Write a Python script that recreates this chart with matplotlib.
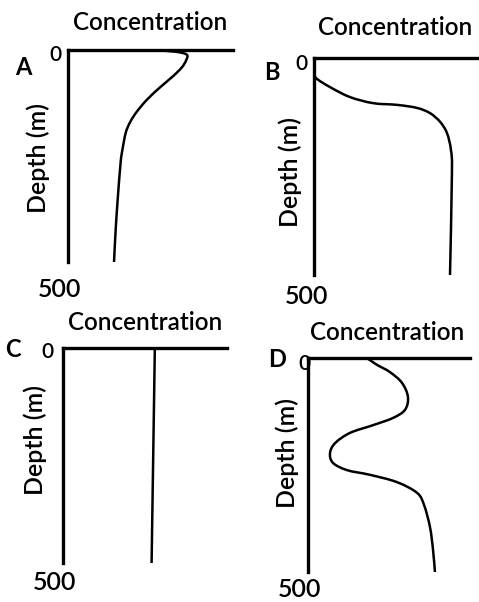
import matplotlib
matplotlib.use("Agg")
import matplotlib.pyplot as plt
from matplotlib.path import Path
from matplotlib.patches import PathPatch

plt.rcParams['font.family'] = ['Lato', 'DejaVu Sans']

# concentration (fraction of axis width) vs depth (m) for the four profiles
depth_a = [0, 4, 11, 25, 41, 62, 88, 117, 145, 169, 195, 235, 265, 353, 430, 500]
conc_a = [0.515, 0.65, 0.72, 0.715, 0.69, 0.636, 0.558, 0.479, 0.418, 0.378, 0.350,
          0.330, 0.319, 0.301, 0.288, 0.279]

depth_b = [30, 46, 67, 90, 104, 108, 115, 127, 147, 173, 212, 265, 505]
conc_b = [0.0, 0.012, 0.097, 0.218, 0.358, 0.503, 0.624, 0.703, 0.764, 0.806, 0.830,
          0.836, 0.824]

depth_c = [0, 505]
conc_c = [0.56, 0.54]

depth_d = [0, 5, 16, 33, 58, 91, 121, 140, 157, 175, 199, 222, 245, 262, 273, 290, 315,
           343, 395, 449, 502]
conc_d = [0.36, 0.383, 0.426, 0.506, 0.580, 0.617, 0.599, 0.525, 0.401, 0.259, 0.167,
          0.136, 0.154, 0.241, 0.383, 0.549, 0.673, 0.716, 0.753, 0.772, 0.784]

panel_letters = ['A', 'B', 'C', 'D']
x_label = 'Concentration'
y_label = 'Depth (m)'
depth_ticks = ['0', '500']

W, H = 479, 602
fig = plt.figure(figsize=(W / 100, H / 100), dpi=100)

# pixel boxes (left, right, top, bottom) of each panel
boxes = [(68, 233, 50, 262), (314, 479, 58, 275), (63, 227, 348, 563), (308, 470, 358, 572)]
profiles = [(conc_a, depth_a), (conc_b, depth_b), (conc_c, depth_c), (conc_d, depth_d)]
# text anchors in pixels: (x centre, baseline y)
title_pos = [(150, 30), (395, 35), (145, 330), (387, 340)]
letter_pos = [(23, 75), (272, 80), (13, 357), (277, 367)]
zero_pos = [(55, 61), (301, 70), (47, 358), (304, 370)]
five_pos = [(60, 297), (307, 304), (55, 590), (300, 597)]
ylab_pos = [(38, 158), (290, 172), (35, 440), (287, 453)]


def put(x, y, s, **kw):
    fig.text(x / W, 1 - y / H, s, fontweight=kw.pop('fontweight', 'semibold'), **kw)


def smooth_path(xs, ys):
    # Catmull-Rom through the points, written as cubic Bezier segments
    pts = list(zip(xs, ys))
    if len(pts) < 3:
        return Path(pts)
    verts = [pts[0]]
    codes = [Path.MOVETO]
    n = len(pts)
    for k in range(n - 1):
        p0 = pts[max(k - 1, 0)]
        p1 = pts[k]
        p2 = pts[k + 1]
        p3 = pts[min(k + 2, n - 1)]
        c1 = (p1[0] + (p2[0] - p0[0]) / 6, p1[1] + (p2[1] - p0[1]) / 6)
        c2 = (p2[0] - (p3[0] - p1[0]) / 6, p2[1] - (p3[1] - p1[1]) / 6)
        verts += [c1, c2, p2]
        codes += [Path.CURVE4] * 3
    return Path(verts, codes)


for i, (l, r, t, b) in enumerate(boxes):
    ax = fig.add_axes([l / W, 1 - b / H, (r - l) / W, (b - t) / H])
    conc, depth = profiles[i]
    ax.add_patch(PathPatch(smooth_path(conc, depth), facecolor='none', edgecolor='black',
                           lw=1.8, capstyle='round', joinstyle='round'))
    ax.set_xlim(0, 1)
    ax.set_ylim(500, 0)
    for side in ['right', 'bottom']:
        ax.spines[side].set_visible(False)
    for side in ['left', 'top']:
        ax.spines[side].set_linewidth(2.4)
        ax.spines[side].set_color('black')
    ax.set_xticks([])
    ax.set_yticks([])

    put(*title_pos[i], x_label, fontsize=17.5, ha='center', va='baseline')
    put(*letter_pos[i], panel_letters[i], fontsize=17, fontweight='bold',
        ha='center', va='baseline')
    put(*zero_pos[i], depth_ticks[0], fontsize=15, ha='center', va='baseline')
    put(*five_pos[i], depth_ticks[1], fontsize=18, ha='center', va='baseline')
    put(*ylab_pos[i], y_label, fontsize=18, rotation=90, ha='center', va='center')

fig.savefig('out.png', dpi=100, facecolor='white')
